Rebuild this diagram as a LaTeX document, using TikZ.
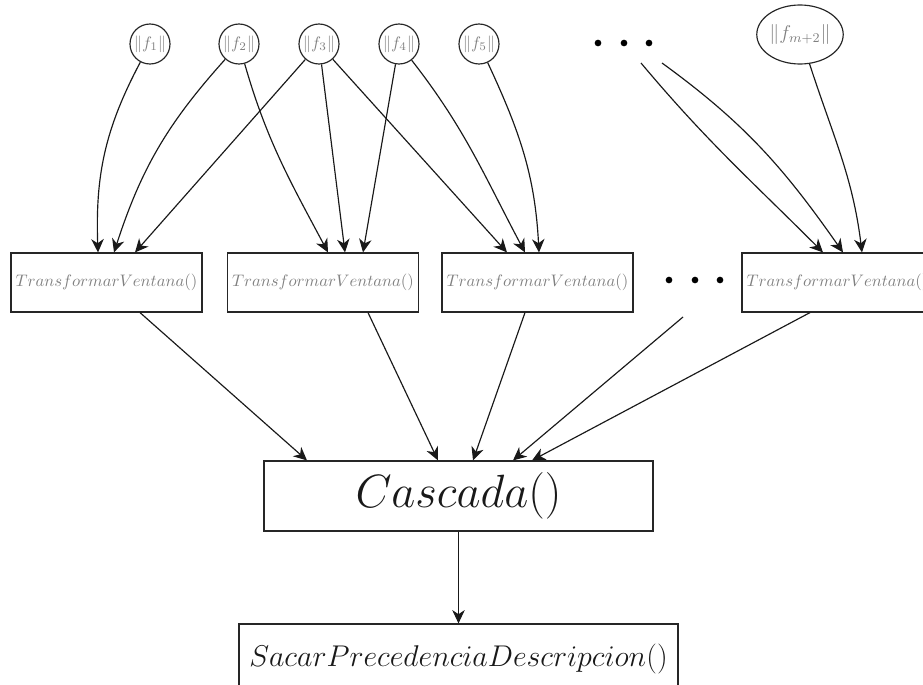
\documentclass[tikz,border=0pt]{standalone}
\usepackage{fix-cm}
\usetikzlibrary{arrows.meta,calc,shapes.geometric}
\begin{document}
\begin{tikzpicture}[x=0.6pt,y=-0.6pt,line width=0.7pt,
  flow/.style={draw=black!90,-{Stealth[length=8pt,width=7.5pt,inset=2.5pt]}},
  normnode/.style={circle,draw=black!85,minimum size=24pt,inner sep=0pt,text=black!50,font=\normalsize},
  normbig/.style={ellipse,draw=black!85,minimum width=39.6pt,minimum height=35.4pt,inner sep=0pt,text=black!50,font=\large},
  winbox/.style={rectangle,draw=black!85,minimum width=114.6pt,minimum height=35.4pt,inner sep=0pt,text=black!50},
  bigbox/.style={rectangle,draw=black!85,minimum height=42pt,inner sep=0pt,text=black!90},
  dotmark/.style={circle,fill=black,draw=none,minimum size=4pt,inner sep=0pt}
]
\useasboundingbox (0,0) rectangle (923,685);

% norm inputs
\node[normnode] (f1) at (150,44) {$\|f_1\|$};
\node[normnode] (f2) at (239,44) {$\|f_2\|$};
\node[normnode] (f3) at (319,44) {$\|f_3\|$};
\node[normnode] (f4) at (399,44) {$\|f_4\|$};
\node[normnode] (f5) at (479,44) {$\|f_5\|$};
\node[normbig] (fm) at (800,34.5) {$\|f_{m+2}\|$};
\node[dotmark] (ta) at (598,43) {};
\node[dotmark] (tb) at (624,43) {};
\node[dotmark] (tc) at (649,43) {};
\coordinate (tl) at (641,63);
\coordinate (tr) at (662,63);

% window transforms
\node[winbox] (b1) at (106.5,282.5) {$TransformarVentana()$};
\node[winbox] (b2) at (323,282.5) {$TransformarVentana()$};
\node[winbox] (b3) at (537.5,282.5) {$TransformarVentana()$};
\node[winbox] (b4) at (837.5,282.5) {$TransformarVentana()$};
\node[dotmark] (ma) at (669,280) {};
\node[dotmark] (mb) at (695,280) {};
\node[dotmark] (mc) at (720,280) {};
\coordinate (md) at (683,317);

% cascade and final step
\node[bigbox,minimum width=233.4pt,font=\fontsize{28}{32}\selectfont]
  (casc) at (458.5,496) {$Cascada()$};
\node[bigbox,minimum width=263.4pt,font=\fontsize{18}{21}\selectfont]
  (sacar) at (458.5,659) {$SacarPrecedenciaDescripcion()$};

% inputs to first window
\draw[flow] (f1) to[out=-118,in=92] ($(b1.north)+(-8.5,0)$);
\draw[flow] (f2) to[out=-132,in=72] ($(b1.north)+(7.5,0)$);
\draw[flow] (f3) -- ($(b1.north)+(28.5,0)$);
% inputs to second window
\draw[flow] (f2) to[out=-74,in=118] ($(b2.north)+(5,0)$);
\draw[flow] (f3) -- ($(b2.north)+(22,0)$);
\draw[flow] (f4) -- ($(b2.north)+(40,0)$);
% inputs to third window
\draw[flow] (f3) -- ($(b3.north)+(-30.5,0)$);
\draw[flow] (f4) to[out=-52,in=118] ($(b3.north)+(-12.5,0)$);
\draw[flow] (f5) to[out=-65,in=93] ($(b3.north)+(1.5,0)$);
% inputs to last window
\draw[flow] (tl) to[out=-50,in=135] ($(b4.north)+(-14.5,0)$);
\draw[flow] (tr) to[out=-36,in=125] ($(b4.north)+(5.5,0)$);
\draw[flow] (fm) to[out=-72,in=97] ($(b4.north)+(24.5,0)$);

% windows into the cascade
\draw[flow] ($(b1.south)+(33.5,0)$) -- ($(casc.north)+(-151.5,0)$);
\draw[flow] ($(b2.south)+(45,0)$) -- ($(casc.north)+(-20.5,0)$);
\draw[flow] ($(b3.south)+(-12.5,0)$) -- ($(casc.north)+(14.5,0)$);
\draw[flow] (md) -- ($(casc.north)+(54.5,0)$);
\draw[flow] ($(b4.south)+(-27.5,0)$) -- ($(casc.north)+(73.5,0)$);

\draw[flow] (casc) -- (sacar);
\end{tikzpicture}
\end{document}
